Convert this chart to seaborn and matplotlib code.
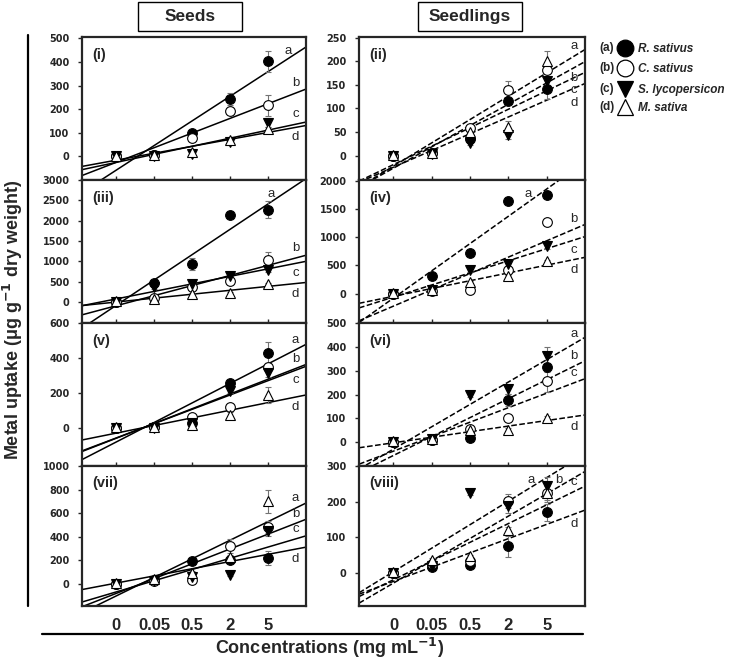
import numpy as np
import matplotlib
matplotlib.use("Agg")
import matplotlib.pyplot as plt
from matplotlib.lines import Line2D
from matplotlib.patches import Rectangle
import seaborn as sns

conc_labels = ['0', '0.05', '0.5', '2', '5']
species = ['R. sativus', 'C. sativus', 'S. lycopersicon', 'M. sativa']
species_tags = ['(a)', '(b)', '(c)', '(d)']

# rows: R. sativus, C. sativus, S. lycopersicon, M. sativa
vals_i = [[0, 5, 101, 243, 403], [0, 5, 80, 194, 216], [0, 3, 10, 59, 143], [2, 5, 20, 71, 116]]
err_i = [[0, 0, 8, 25, 45], [0, 0, 5, 15, 45], [0, 0, 5, 10, 20], [0, 0, 5, 10, 10]]

vals_ii = [[0, 5, 35, 115, 141], [0, 5, 58, 139, 181], [0, 4, 26, 44, 158], [2, 6, 49, 61, 201]]
err_ii = [[0, 0, 3, 5, 20], [0, 0, 5, 20, 12], [0, 0, 4, 8, 10], [0, 0, 5, 12, 22]]

vals_iii = [[0, 455, 934, 2149, 2273], [0, 100, 355, 520, 1033], [0, 355, 438, 636, 785], [20, 80, 190, 223, 430]]
err_iii = [[0, 60, 150, 80, 200], [0, 20, 50, 40, 200], [0, 30, 40, 90, 60], [0, 10, 20, 20, 30]]

vals_iv = [[0, 318, 718, 1647, 1747], [0, 41, 71, 412, 1259], [0, 59, 412, 529, 835], [5, 59, 200, 306, 571]]
err_iv = [[0, 20, 40, 70, 60], [0, 10, 10, 30, 30], [0, 10, 30, 40, 40], [0, 10, 15, 20, 20]]

vals_v = [[0, 5, 32, 257, 432], [0, 5, 67, 120, 352], [0, 0, 32, 215, 314], [5, 10, 19, 76, 190]]
err_v = [[0, 0, 8, 15, 60], [0, 0, 8, 20, 20], [0, 0, 5, 15, 20], [0, 0, 5, 15, 45]]

vals_vi = [[0, 10, 17, 177, 315], [0, 8, 55, 102, 258], [0, 12, 197, 223, 365], [5, 12, 52, 52, 102]]
err_vi = [[0, 0, 5, 25, 20], [0, 0, 5, 10, 45], [0, 0, 8, 20, 35], [0, 0, 5, 8, 10]]

vals_vii = [[0, 30, 190, 204, 218], [0, 20, 34, 318, 480], [0, 25, 57, 77, 450], [5, 40, 91, 227, 700]]
err_vii = [[0, 5, 10, 20, 60], [0, 5, 8, 60, 50], [0, 5, 8, 8, 40], [0, 5, 15, 15, 95]]

vals_viii = [[0, 16, 23, 75, 170], [0, 25, 35, 202, 224], [0, 21, 224, 189, 245], [3, 38, 47, 120, 224]]
err_viii = [[0, 3, 5, 30, 25], [0, 5, 5, 20, 25], [0, 3, 5, 20, 25], [0, 5, 5, 10, 20]]

sns.set_style('ticks')
plt.rcParams['font.family'] = ['Liberation Sans', 'DejaVu Sans']

W, H = 730, 659
fig = plt.figure(figsize=(W / 100, H / 100), dpi=100)


def px_axes(x0, y0, x1, y1):
    return fig.add_axes([x0 / W, 1 - y1 / H, (x1 - x0) / W, (y1 - y0) / H])


markers = [('o', 'black'), ('o', 'white'), ('v', 'black'), ('^', 'white')]
rows = [(37, 180), (180, 323), (323, 466), (466, 606)]
cols = [(82, 306, '-'), (359, 585, '--')]

panels = [
    ('(i)', vals_i, err_i, 0, 0, [0, 100, 200, 300, 400, 500], (-100, 506)),
    ('(ii)', vals_ii, err_ii, 0, 1, [0, 50, 100, 150, 200, 250], (-52, 252)),
    ('(iii)', vals_iii, err_iii, 1, 0, [0, 500, 1000, 1500, 2000, 2500, 3000], (-520, 3000)),
    ('(iv)', vals_iv, err_iv, 1, 1, [0, 500, 1000, 1500, 2000], (-520, 2010)),
    ('(v)', vals_v, err_v, 2, 0, [0, 200, 400, 600], (-215, 602)),
    ('(vi)', vals_vi, err_vi, 2, 1, [0, 100, 200, 300, 400, 500], (-100, 502)),
    ('(vii)', vals_vii, err_vii, 3, 0, [0, 200, 400, 600, 800, 1000], (-188, 1000)),
    ('(viii)', vals_viii, err_viii, 3, 1, [0, 100, 200, 300], (-92, 300)),
]

xpos = np.arange(len(conc_labels))
XLIM = (-0.9, 5.0)


def label_lines(ax, vals, ylim):
    # letters a-d next to the fitted lines, ranked from the top line down
    yr = ylim[1] - ylim[0]
    fits = [np.polyfit(xpos, v, 1) for v in vals]
    xl = 4.72
    ends = [np.polyval(f, xl) for f in fits]
    order = np.argsort(ends)[::-1]
    prev = None
    gap, off = 0.09 * yr, 0.07 * yr
    for rank, k in enumerate(order):
        m, b = fits[k]
        x, y = xl, ends[k] + (off if rank < 3 else -off)
        if y > ylim[1] - 0.06 * yr:
            y = ylim[1] - 0.1 * yr
            x = (y - b) / m - 0.3
            prev = None
        else:
            if prev is not None and y > prev - gap:
                y = ends[k] - off
                if y > prev - gap:
                    y = prev - gap
            prev = y
        ax.text(x, y, 'abcd'[rank], fontsize=9.5, ha='center', va='center', zorder=6)


for name, vals, errs, r, c, yticks, ylim in panels:
    x0, x1, ls = cols[c]
    y0, y1 = rows[r]
    ax = px_axes(x0, y0, x1, y1)
    ax.set_xlim(*XLIM)
    for k in range(4):
        sns.regplot(x=xpos, y=np.array(vals[k], dtype=float), ax=ax, scatter=False,
                    ci=None, truncate=False, color='black',
                    line_kws=dict(lw=1.1, ls=ls, zorder=2))
    for k in range(4):
        v = np.array(vals[k], dtype=float)
        e = np.array(errs[k], dtype=float)
        m = e > 0
        ax.errorbar(xpos[m], v[m], yerr=e[m], fmt='none', ecolor='0.45',
                    elinewidth=0.8, capsize=2.5, capthick=0.8, zorder=3)
        mk, fc = markers[k]
        ax.plot(xpos, v, ls='none', marker=mk, ms=7, mfc=fc, mec='black',
                mew=0.8, zorder=4 + k)
    ax.set_xlim(*XLIM)
    ax.set_ylim(*ylim)
    label_lines(ax, vals, ylim)

    ax.text(0.045, 0.875, name, transform=ax.transAxes, fontsize=10.5,
            fontweight='bold', va='center', ha='left')

    ax.set_yticks(yticks)
    ax.set_yticklabels([str(t) for t in yticks], fontsize=7, fontweight='bold',
                       family='DejaVu Sans')
    ax.tick_params(axis='y', direction='out', length=3, width=1, pad=6)
    ax.set_xticks(xpos)
    if r < 3:
        ax.tick_params(axis='x', direction='in', length=3, width=1, labelbottom=False)
    else:
        ax.set_xticklabels(conc_labels, fontsize=12, fontweight='bold')
        ax.tick_params(axis='x', length=0, pad=9)
    ax.set_xlabel('')
    ax.set_ylabel('')
    for sp in ax.spines.values():
        sp.set_visible(True)
        sp.set_linewidth(1.6)

# column titles in boxes
for (bx0, bx1), title in [((138, 242), 'Seeds'), ((418, 522), 'Seedlings')]:
    fig.add_artist(Rectangle((bx0 / W, 1 - 31 / H), (bx1 - bx0) / W, 29 / H,
                             transform=fig.transFigure, fill=False, ec='black', lw=1))
    fig.text((bx0 + bx1) / 2 / W, 1 - 16.5 / H, title, ha='center', va='center',
             fontsize=12.5, fontweight='bold')

# axis frame lines and labels
fig.add_artist(Line2D([28 / W, 28 / W], [1 - 35 / H, 1 - 606 / H], color='black', lw=1.6))
fig.add_artist(Line2D([42 / W, 583 / W], [1 - 634 / H, 1 - 634 / H], color='black', lw=1.6))
fig.text(13 / W, 1 - 320 / H, r'Metal uptake (μg g$^{\mathbf{-1}}$ dry weight)',
         rotation=90, ha='center', va='center', fontsize=13, fontweight='bold')
fig.text(330 / W, 1 - 648 / H, r'Concentrations (mg mL$^{\mathbf{-1}}$)',
         ha='center', va='center', fontsize=13, fontweight='bold')

# legend
lax = px_axes(595, 35, 730, 122)
lax.set_xlim(595, 730)
lax.set_ylim(122, 35)
lax.axis('off')
row_y = [48, 68, 89, 107]
for k in range(4):
    mk, fc = markers[k]
    lax.plot([625], [row_y[k]], ls='none', marker=mk, ms=12, mfc=fc, mec='black', mew=0.9,
             clip_on=False)
    lax.text(599, row_y[k], species_tags[k], fontsize=8.5, fontweight='bold',
             ha='left', va='center')
    lax.text(638, row_y[k] + 1, species[k], fontsize=8.5, fontweight='bold',
             fontstyle='italic', ha='left', va='center')

fig.savefig('out.png', dpi=100)
